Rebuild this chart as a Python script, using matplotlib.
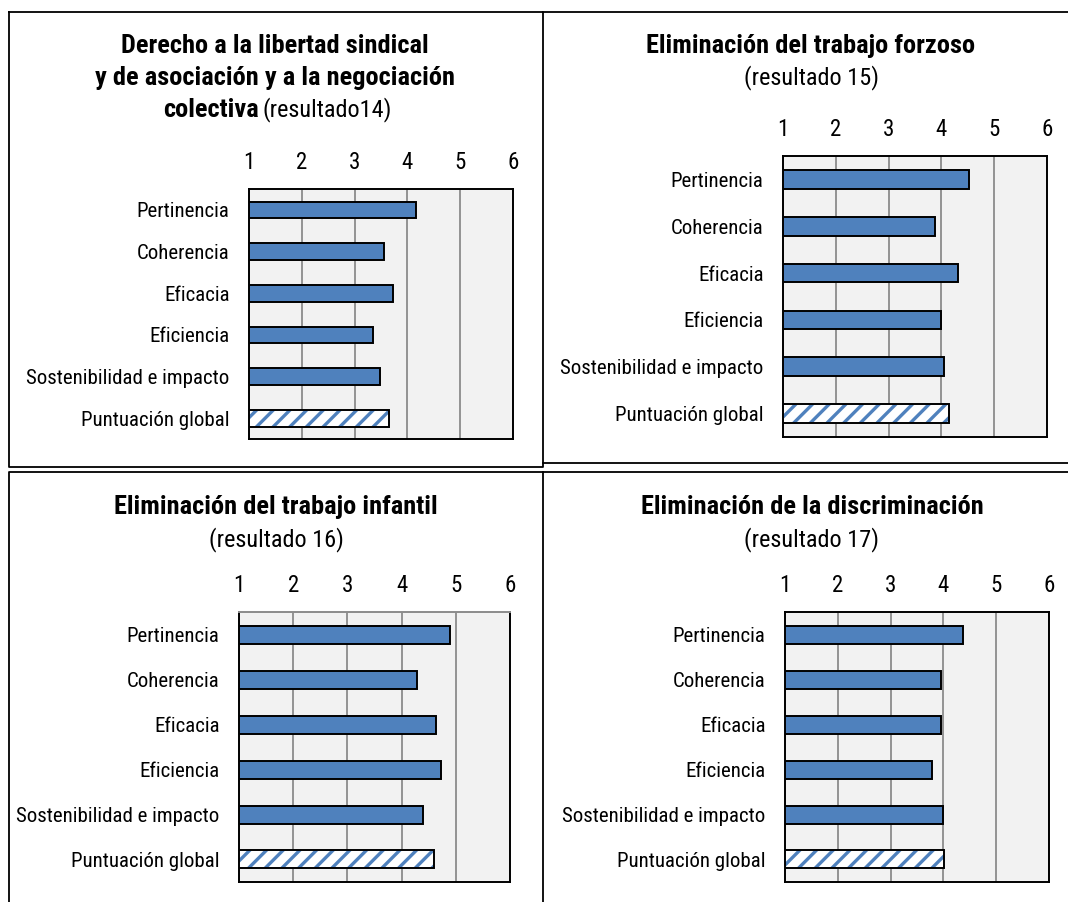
import matplotlib
matplotlib.use("Agg")
import matplotlib.pyplot as plt
from matplotlib.lines import Line2D

plt.rcParams['font.family'] = ['Roboto Condensed', 'DejaVu Sans']
plt.rcParams['hatch.linewidth'] = 2.4

categories = ["Pertinencia", "Coherencia", "Eficacia", "Eficiencia",
              "Sostenibilidad e impacto", "Puntuación global"]

scores14 = [4.17, 3.55, 3.72, 3.35, 3.49, 3.65]
scores15 = [4.52, 3.87, 4.32, 4.00, 4.04, 4.14]
scores16 = [4.90, 4.29, 4.63, 4.73, 4.39, 4.59]
scores17 = [4.37, 3.96, 3.96, 3.78, 3.99, 4.02]

xticks = [1, 2, 3, 4, 5, 6]

BLUE = "#4F81BD"
W, H = 1068, 902


def px_rect(left, top, right, bottom):
    return [left / W, 1 - bottom / H, (right - left) / W, (bottom - top) / H]


def draw_panel(fig, rect, scores, gray_top=False):
    ax = fig.add_axes(rect)
    ax.set_facecolor("#F2F2F2")
    y = list(range(len(categories)))
    widths = [s - 1 for s in scores]
    # regular criteria as solid bars
    ax.barh(y[:-1], widths[:-1], left=1, height=0.4, color=BLUE,
            edgecolor="black", linewidth=1.4, zorder=3)
    # overall score: hatched bar, hatch in blue and outline in black
    ax.barh(y[-1], widths[-1], left=1, height=0.4, color="white",
            edgecolor=BLUE, hatch="//", linewidth=0, zorder=3)
    ax.barh(y[-1], widths[-1], left=1, height=0.4, fill=False,
            edgecolor="black", linewidth=1.4, zorder=4)
    ax.set_xlim(1, 6)
    ax.set_ylim(len(categories) - 0.5, -0.5)
    ax.set_xticks(xticks)
    ax.set_xticklabels([str(t) for t in xticks])
    ax.set_yticks(y)
    ax.set_yticklabels(categories)
    ax.xaxis.tick_top()
    ax.tick_params(axis="both", length=0, labelsize=15)
    ax.tick_params(axis="x", pad=11, labelsize=16.5)
    ax.tick_params(axis="y", pad=14)
    ax.grid(axis="x", color="#8C8C8C", linewidth=1.3, zorder=1)
    ax.set_axisbelow(True)
    for sp in ax.spines.values():
        sp.set_linewidth(1.4)
        sp.set_color("black")
    if gray_top:
        ax.spines["top"].set_color("#8C8C8C")
    return ax


fig = plt.figure(figsize=(W / 100, H / 100), dpi=100)

draw_panel(fig, px_rect(249, 189, 513, 439), scores14)
draw_panel(fig, px_rect(783, 156, 1047, 437), scores15)
draw_panel(fig, px_rect(239, 612, 510, 882), scores16, gray_top=True)
draw_panel(fig, px_rect(785, 612, 1049, 882), scores17)


def ftext(x, y, s, **kw):
    fig.text(x / W, 1 - y / H, s, va="center", **kw)


TSIZE = 19
SSIZE = 17.5

# panel titles
ftext(275, 46, "Derecho a la libertad sindical", ha="center", fontsize=TSIZE, fontweight="bold")
ftext(275, 78, "y de asociación y a la negociación", ha="center", fontsize=TSIZE, fontweight="bold")
ftext(259, 110, "colectiva", ha="right", fontsize=TSIZE, fontweight="bold")
ftext(263, 110, "(resultado14)", ha="left", fontsize=SSIZE)

ftext(811, 46, "Eliminación del trabajo forzoso", ha="center", fontsize=TSIZE, fontweight="bold")
ftext(811, 78, "(resultado 15)", ha="center", fontsize=SSIZE)

ftext(276, 507, "Eliminación del trabajo infantil", ha="center", fontsize=TSIZE, fontweight="bold")
ftext(276, 540, "(resultado 16)", ha="center", fontsize=SSIZE)

ftext(812, 507, "Eliminación de la discriminación", ha="center", fontsize=TSIZE, fontweight="bold")
ftext(812, 540, "(resultado 17)", ha="center", fontsize=SSIZE)

# frames around the four panels
frames = [
    [(9, 12), (543, 12), (543, 467), (9, 467), (9, 12)],
    [(543, 12), (1070, 12)],
    [(543, 463), (1070, 463)],
    [(9, 904), (9, 472), (1070, 472)],
    [(543, 472), (543, 904)],
]
for pts in frames:
    xs = [p[0] / W for p in pts]
    ys = [1 - p[1] / H for p in pts]
    fig.add_artist(Line2D(xs, ys, color="black", linewidth=1.3))

fig.savefig("out.png", dpi=100)
